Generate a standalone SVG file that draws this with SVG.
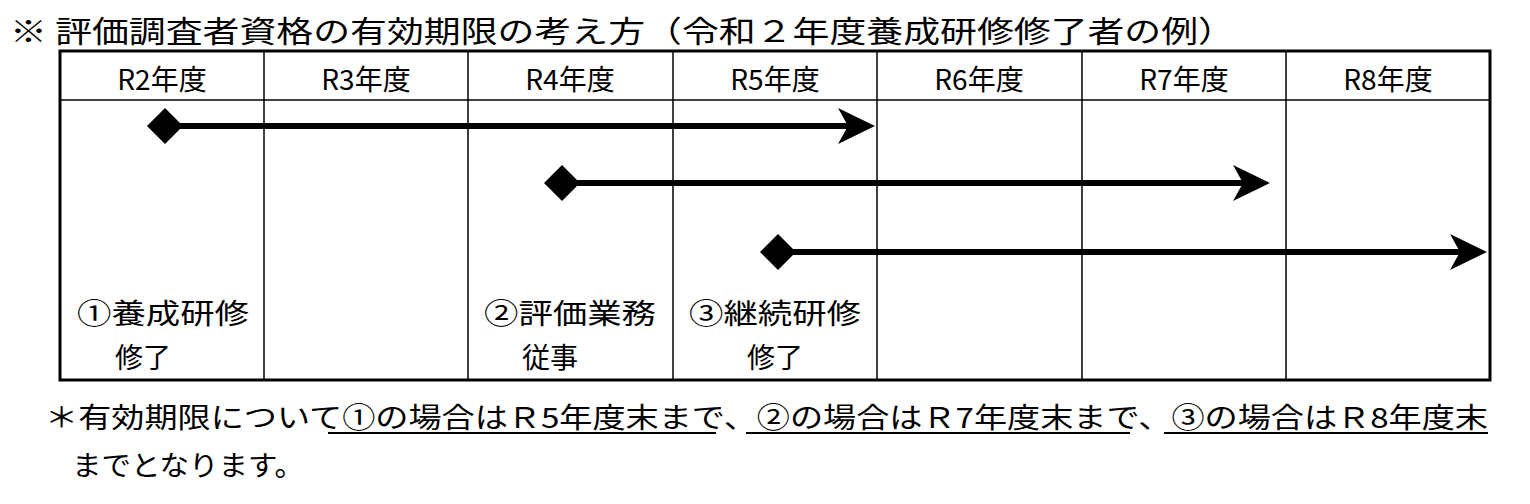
<svg xmlns="http://www.w3.org/2000/svg" width="1530" height="504" viewBox="0 0 1530 504">
<style>
text{font-family:"Noto Sans CJK JP","Liberation Sans",sans-serif;fill:#000}
.h{font-size:28px;text-anchor:middle}
.c{font-size:28px;text-anchor:middle}
.g{stroke:#000;stroke-width:1.5;fill:none}
.a{stroke:#000;stroke-width:6;fill:none}
.u{stroke:#000;stroke-width:2}
</style>
<rect width="1530" height="504" fill="#fff"/>
<text x="10" y="42" font-size="30" textLength="1225" lengthAdjust="spacingAndGlyphs">※ 評価調査者資格の有効期限の考え方（令和２年度養成研修修了者の例）</text>
<g id="table">
<rect x="60" y="51" width="1430" height="329" fill="none" stroke="#000" stroke-width="3"/>
<line class="g" x1="60" y1="100" x2="1490" y2="100"/>
<line class="g" x1="264" y1="51" x2="264" y2="380"/>
<line class="g" x1="468" y1="51" x2="468" y2="380"/>
<line class="g" x1="673" y1="51" x2="673" y2="380"/>
<line class="g" x1="877" y1="51" x2="877" y2="380"/>
<line class="g" x1="1082" y1="51" x2="1082" y2="380"/>
<line class="g" x1="1286" y1="51" x2="1286" y2="380"/>
<text class="h" x="162" y="90">R2年度</text>
<text class="h" x="366" y="90">R3年度</text>
<text class="h" x="570" y="90">R4年度</text>
<text class="h" x="775" y="90">R5年度</text>
<text class="h" x="979" y="90">R6年度</text>
<text class="h" x="1184" y="90">R7年度</text>
<text class="h" x="1388" y="90">R8年度</text>
</g>
<g id="n1"><text class="c" x="163" y="324" textLength="172" lengthAdjust="spacingAndGlyphs">①養成研修</text><text class="c" x="143" y="368">修了</text></g>
<g id="n2"><text class="c" x="570" y="324" textLength="172" lengthAdjust="spacingAndGlyphs">②評価業務</text><text class="c" x="550" y="368">従事</text></g>
<g id="n3"><text class="c" x="775" y="324" textLength="172" lengthAdjust="spacingAndGlyphs">③継続研修</text><text class="c" x="775" y="368">修了</text></g>
<g id="connectors">
<path d="M165 108 L183 126 L165 144 L147 126Z"/><line class="a" x1="165" y1="126" x2="862" y2="126"/><path d="M875 126 L838 108 L848 126 L838 144Z"/>
<path d="M562 165 L580 183 L562 201 L544 183Z"/><line class="a" x1="562" y1="183" x2="1257" y2="183"/><path d="M1270 183 L1233 165 L1243 183 L1233 201Z"/>
<path d="M778 234 L796 252 L778 270 L760 252Z"/><line class="a" x1="778" y1="252" x2="1474" y2="252"/><path d="M1487 252 L1450 234 L1460 252 L1450 270Z"/>
</g>
<text x="45" y="428" font-size="28" textLength="1443" lengthAdjust="spacingAndGlyphs">＊有効期限について①の場合はＲ5年度末まで、②の場合はＲ7年度末まで、③の場合はＲ8年度末</text>
<line class="u" x1="328" y1="433" x2="716" y2="433"/>
<line class="u" x1="746" y1="433" x2="1130" y2="433"/>
<line class="u" x1="1164" y1="433" x2="1488" y2="433"/>
<text x="72" y="476" font-size="28" textLength="232" lengthAdjust="spacingAndGlyphs">までとなります。</text>
</svg>
